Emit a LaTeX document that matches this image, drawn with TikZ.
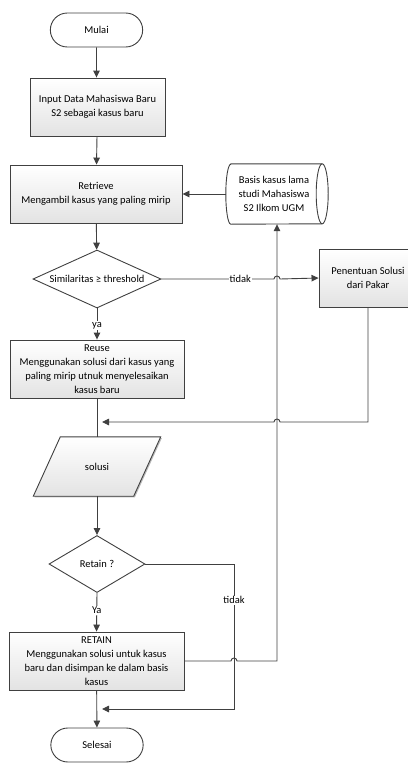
\documentclass[tikz,border=0pt]{standalone}
\usepackage{fontspec}
\setmainfont{Carlito}
\usepackage{tikz}
\usetikzlibrary{shapes,arrows,positioning,calc,shadows,arrows.meta}
\definecolor{linegray}{RGB}{64,64,64}

\begin{document}
\begin{tikzpicture}[x=1pt, y=-1pt, >={Triangle[length=7pt,width=6.5pt]},
    every node/.style={font=\fontsize{10.5}{14}\selectfont},
    line/.style={draw=linegray, line width=0.9pt},
    shade/.style={top color=white, bottom color=gray!22,
        drop shadow={shadow xshift=1.2pt, shadow yshift=-1.2pt, opacity=1, fill=gray!55}},
    proc/.style={line, shade, rectangle, align=center, minimum height=58pt, inner sep=2pt},
    term/.style={line, rounded rectangle, fill=white, minimum width=99pt, minimum height=34pt},
    decision/.style={line, diamond, fill=white, inner sep=0pt, aspect=2.2},
    lbl/.style={fill=white, inner sep=1pt}]
    \useasboundingbox (0,0) rectangle (407,763);

    \node[term] (mulai) at (96.5,30) {Mulai};
    \node[proc, minimum width=135pt] (input) at (97.5,107) {Input Data Mahasiswa Baru\\S2 sebagai kasus baru};
    \node[proc, minimum width=172pt] (retrieve) at (96,194) {Retrieve\\Mengambil kasus yang paling mirip};
    % storage drum
    \node[minimum width=102pt, minimum height=60pt, inner sep=0pt] (dbase) at (277,194) {};
    \draw[line, fill=white] ($(dbase.north west)+(5,0)$) -- ($(dbase.north east)+(-6,0)$)
        arc[start angle=90, end angle=-90, x radius=6pt, y radius=30pt]
        -- ($(dbase.south west)+(5,0)$)
        arc[start angle=270, end angle=90, x radius=5pt, y radius=30pt] -- cycle;
    \draw[line] ($(dbase.north east)+(-6,0)$) arc[start angle=90, end angle=270, x radius=6pt, y radius=30pt];
    \node[align=center] at ($(dbase.center)+(-3,0)$) {Basis kasus lama\\studi Mahasiswa\\S2 Ilkom UGM};
    \node[decision, minimum width=128pt, minimum height=58pt] (sim) at (97,279) {Similaritas ≥ threshold};
    \node[proc, minimum width=98pt] (pakar) at (368,278) {Penentuan Solusi\\dari Pakar};
    \node[proc, minimum width=174pt] (reuse) at (97,369) {Reuse\\Menggunakan solusi dari kasus yang\\paling mirip utnuk menyelesaikan\\kasus baru};
    % data parallelogram
    \node[minimum width=100pt, minimum height=59pt, inner sep=0pt] (solusi) at (97,466.5) {};
    \draw[line, shade] ($(solusi.north west)+(13.5,0)$) -- ($(solusi.north east)+(13.5,0)$)
        -- ($(solusi.south east)+(-13.5,0)$) -- ($(solusi.south west)+(-13.5,0)$) -- cycle;
    \node at (solusi.center) {solusi};
    \node[decision, minimum width=96pt, minimum height=57pt] (retain) at (97,564) {Retain ?};
    \node[proc, minimum width=175pt] (retainbox) at (96.5,661) {RETAIN\\Menggunakan solusi untuk kasus\\baru dan disimpan ke dalam basis\\kasus};
    \node[term] (selesai) at (97,745) {Selesai};

    \coordinate (m1) at (97,422);
    \coordinate (m2) at (97,709);
    \coordinate (c2) at (234,709);

    \draw[line,->] (mulai) -- (mulai |- input.north);
    \draw[line,->] (input) -- (retrieve);
    \draw[line,->] (dbase.west) -- (retrieve.east);
    \draw[line,->] (retrieve) -- (sim);
    \draw[line,->] (sim.east) -- node[lbl, pos=0.7] {tidak} ($(dbase.south |- sim.east)+(-3,0)$)
        arc[start angle=180, end angle=0, radius=3pt] -- (pakar.west);
    \draw[line,->] (sim.south) -- node[lbl, pos=0.55] {ya} (reuse.north);
    \draw[line] (reuse.south) -- (solusi.north);
    \draw[line,->] (pakar.south) -- (pakar.south |- m1) -- ($(dbase.south |- m1)+(3,0)$)
        arc[start angle=0, end angle=180, radius=3pt] -- ([xshift=5pt]m1);
    \draw[line,->] (solusi.south) -- (retain.north);
    \draw[line,->] (retain.south) -- node[lbl, pos=0.45] {Ya} (retainbox.north);
    \draw[line,->] (retain.east) -- (retain.east -| c2) -- node[lbl, pos=0.25] {tidak} (c2) -- ([xshift=5pt]m2);
    \draw[line,->] (retainbox.east) -- ($(c2 |- retainbox.east)+(-3,0)$)
        arc[start angle=180, end angle=0, radius=3pt] -- (dbase.south |- retainbox.east) -- (dbase.south);
    \draw[line,->] (retainbox) -- (selesai);
\end{tikzpicture}
\end{document}
